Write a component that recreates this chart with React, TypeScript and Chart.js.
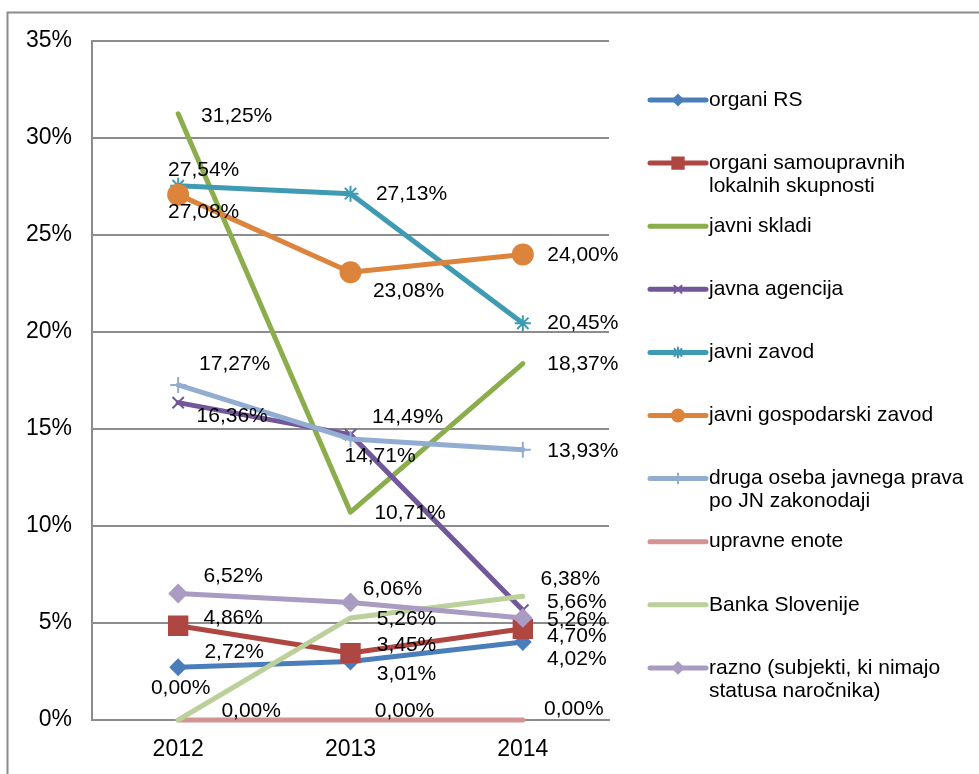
import React, { useEffect, useRef } from 'react';
import { Chart, registerables } from 'chart.js';
import { drawPoint } from 'chart.js/helpers';

Chart.register(...registerables);

// ---------- data ----------
const categories = ['2012', '2013', '2014'];

const seriesNames = [
  'organi RS',
  'organi samoupravnih\nlokalnih skupnosti',
  'javni skladi',
  'javna agencija',
  'javni zavod',
  'javni gospodarski zavod',
  'druga oseba javnega prava\npo JN zakonodaji',
  'upravne enote',
  'Banka Slovenije',
  'razno (subjekti, ki nimajo\nstatusa naročnika)',
];

const organiRS = [2.72, 3.01, 4.02];
const organiSamoupravnih = [4.86, 3.45, 4.7];
const javniSkladi = [31.25, 10.71, 18.37];
const javnaAgencija = [16.36, 14.71, 5.66];
const javniZavod = [27.54, 27.13, 20.45];
const javniGospodarskiZavod = [27.08, 23.08, 24.0];
const drugaOseba = [17.27, 14.49, 13.93];
const upravneEnote = [0, 0, 0];
const bankaSlovenije = [0, 5.26, 6.38];
const razno = [6.52, 6.06, 5.26];

const seriesValues = [
  organiRS,
  organiSamoupravnih,
  javniSkladi,
  javnaAgencija,
  javniZavod,
  javniGospodarskiZavod,
  drugaOseba,
  upravneEnote,
  bankaSlovenije,
  razno,
];

const yMin = 0;
const yMax = 35;
const yStep = 5;

// ---------- styles ----------
const colors = [
  '#4A7EBB',
  '#AE4642',
  '#8CAD4C',
  '#72589A',
  '#3F9AB4',
  '#DC843B',
  '#93ACD2',
  '#D29392',
  '#BBD09A',
  '#A99BC2',
];
const pointStyles: any[] = ['rectRot', 'rect', false, 'crossRot', 'star', 'circle', 'cross', false, false, 'rectRot'];
const pointRadii = [7.5, 13, 0, 8, 8, 10, 8, 0, 0, 8.5];
const legendRadii = [5, 8, 0, 5, 5, 6, 5, 0, 0, 5.5];

// label text-centre offsets from each point (dx, dy)
const labelOffsets: number[][][] = [
  [[56, -15], [56, 13], [54, 17.5]],
  [[55, -8], [56, -7.5], [54, 7]],
  [[58.5, 2], [59.5, 1], [60, 1]],
  [[54, 14], [29.5, 22], [54, -8]],
  [[25.5, -16], [61, 1], [60, 0]],
  [[25.5, 18], [58, 19], [60, 1]],
  [[56.5, -21], [57, -22], [60, 1]],
  [[73, -9], [54, -9], [51, -11]],
  [[2.5, -32], [56, 1.5], [47.5, -17]],
  [[55, -17], [42, -13], [54, 2]],
];

const FONT = '"Liberation Sans", Arial, sans-serif';
const FONT_SIZE = 21;
const TICK_FONT_SIZE = 23;
const GRID = '#8C8C8C';

const fmt = (v: number) => v.toFixed(2).replace('.', ',') + '%';

const labelsPlugin = {
  id: 'valueLabels',
  afterDatasetsDraw(chart: any) {
    const ctx = chart.ctx;
    ctx.save();
    ctx.font = `${FONT_SIZE}px ${FONT}`;
    ctx.fillStyle = '#000';
    ctx.textAlign = 'center';
    ctx.textBaseline = 'middle';
    seriesValues.forEach((vals, i) => {
      const meta = chart.getDatasetMeta(i);
      vals.forEach((v, j) => {
        const el = meta.data[j];
        const off = labelOffsets[i][j];
        ctx.fillText(fmt(v), el.x + off[0], el.y + off[1]);
      });
    });
    ctx.restore();
  },
};

const legendPlugin = {
  id: 'customLegend',
  afterDraw(chart: any) {
    const ctx = chart.ctx;
    ctx.save();
    const x0 = 650;
    const x1 = 706;
    const tx = 709;
    const y0 = 100;
    const step = 63.1;
    seriesNames.forEach((name, i) => {
      const y = y0 + i * step;
      ctx.strokeStyle = colors[i];
      ctx.lineWidth = 5;
      ctx.lineCap = 'round';
      ctx.beginPath();
      ctx.moveTo(x0, y);
      ctx.lineTo(x1, y);
      ctx.stroke();
      if (pointStyles[i]) {
        ctx.fillStyle = colors[i];
        ctx.strokeStyle = colors[i];
        ctx.lineWidth = 2;
        drawPoint(ctx, { pointStyle: pointStyles[i], radius: legendRadii[i], rotation: 0, borderWidth: 2 } as any, (x0 + x1) / 2, y);
      }
      ctx.fillStyle = '#000';
      ctx.font = `${FONT_SIZE}px ${FONT}`;
      ctx.textAlign = 'left';
      ctx.textBaseline = 'middle';
      name.split('\n').forEach((line, k) => {
        ctx.fillText(line, tx, y + k * 23);
      });
    });
    ctx.restore();
  },
};

const borderPlugin = {
  id: 'outerBorder',
  afterDraw(chart: any) {
    const ctx = chart.ctx;
    ctx.save();
    ctx.strokeStyle = '#8C8C8C';
    ctx.lineWidth = 2;
    ctx.beginPath();
    ctx.moveTo(7.5, 800);
    ctx.lineTo(7.5, 12.5);
    ctx.lineTo(1000, 12.5);
    ctx.stroke();
    ctx.restore();
  },
};

export default function App() {
  const ref = useRef<HTMLCanvasElement | null>(null);
  useEffect(() => {
    if (!ref.current) return;
    const datasets = seriesValues.map((vals, i) => ({
      label: seriesNames[i],
      data: vals,
      borderColor: colors[i],
      backgroundColor: colors[i],
      borderWidth: 5,
      borderCapStyle: 'round' as const,
      borderJoinStyle: 'round' as const,
      tension: 0,
      fill: false,
      clip: false as any,
      pointStyle: pointStyles[i],
      pointRadius: pointRadii[i],
      pointBorderWidth: 2,
      pointBorderColor: colors[i],
      pointBackgroundColor: colors[i],
      order: -i,
    }));
    const chart = new Chart(ref.current, {
      type: 'line',
      data: { labels: categories, datasets },
      options: {
        responsive: false,
        animation: false,
        events: [],
        layout: { padding: { left: 0, right: 370, top: 41, bottom: 0 } },
        plugins: { legend: { display: false }, tooltip: { enabled: false } },
        scales: {
          x: {
            type: 'category',
            offset: true,
            grid: { display: false, drawTicks: false },
            border: { display: true, color: GRID, width: 2 },
            ticks: { color: '#000', font: { family: FONT, size: TICK_FONT_SIZE }, padding: 16 },
            afterFit: (s: any) => { s.height = 54; },
          },
          y: {
            min: yMin,
            max: yMax,
            grid: { color: GRID, lineWidth: 2, drawTicks: false },
            border: { display: true, color: GRID, width: 2 },
            ticks: {
              stepSize: yStep,
              color: '#000',
              font: { family: FONT, size: TICK_FONT_SIZE },
              padding: 20,
              callback: (v: any) => `${v}%`,
            },
            afterFit: (s: any) => { s.width = 92; },
          },
        },
      },
      plugins: [labelsPlugin, legendPlugin, borderPlugin],
    });
    return () => chart.destroy();
  }, []);
  return (
    <div style={{ position: 'absolute', left: 0, top: 0, width: 979, height: 774, background: '#fff' }}>
      <canvas ref={ref} width={979} height={774} style={{ display: 'block', width: 979, height: 774 }} />
    </div>
  );
}
